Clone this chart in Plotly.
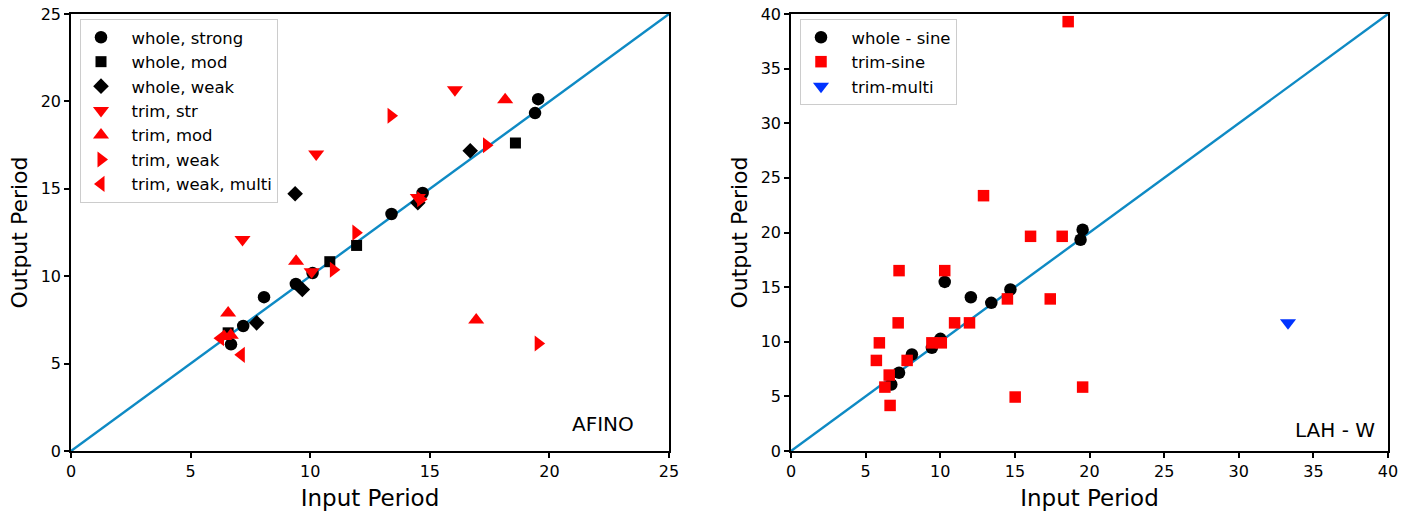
import plotly.graph_objects as go

# ---------------- Left panel (AFINO) ----------------
ws_x = [19.53, 19.40, 14.70, 13.40, 9.40, 10.10, 8.07, 7.20, 6.69]
ws_y = [20.13, 19.33, 14.76, 13.56, 9.56, 10.18, 8.80, 7.15, 6.10]

wm_x = [18.58, 11.94, 10.82, 6.57]
wm_y = [17.62, 11.76, 10.83, 6.76]

ww_x = [16.69, 9.37, 9.67, 7.76, 14.50]
ww_y = [17.18, 14.72, 9.24, 7.33, 14.20]

ts_x = [16.05, 10.25, 7.17, 14.50, 10.06]
ts_y = [20.66, 16.99, 12.10, 14.50, 10.26]

tm_x = [18.15, 9.41, 6.57, 16.94, 6.40, 6.68]
tm_y = [20.10, 10.85, 7.90, 7.49, 6.55, 6.62]

tw_x = [13.38, 17.37, 11.91, 10.97, 14.62, 19.53]
tw_y = [19.18, 17.49, 12.49, 10.37, 14.40, 6.15]

twm_x = [7.12, 6.25]
twm_y = [5.50, 6.45]

# ---------------- Right panel (LAH - W) ----------------
rs_x = [19.54, 19.40, 14.70, 13.42, 12.05, 10.30, 10.01, 9.44, 8.10, 7.24, 6.72]
rs_y = [20.26, 19.34, 14.78, 13.56, 14.07, 15.48, 10.27, 9.44, 8.83, 7.16, 6.09]

rq_x = [18.57, 12.90, 16.05, 18.17, 7.24, 10.30, 14.50, 17.37, 7.18, 10.96, 11.96,
        5.92, 9.44, 10.07, 5.72, 7.78, 6.58, 6.29, 6.64, 15.02, 19.54]
rq_y = [39.30, 23.37, 19.65, 19.65, 16.51, 16.51, 13.92, 13.92, 11.73, 11.73, 11.73,
        9.90, 9.90, 9.90, 8.29, 8.29, 6.95, 5.85, 4.17, 4.94, 5.85]

rm_x = [33.30]
rm_y = [11.73]

left_range = [0, 25]
right_range = [0, 40]
tick_left = [0, 5, 10, 15, 20, 25]
tick_right = [0, 5, 10, 15, 20, 25, 30, 35, 40]

FONT = "DejaVu Sans"
RED = "#ff0000"
BLACK = "#000000"
BLUE = "#0033ff"
LINE = "#0e8ac4"
PAD = "\u00a0\u00a0"  # small gap between legend symbol and label

fig = go.Figure()

# diagonal lines
fig.add_trace(go.Scatter(x=left_range, y=left_range, mode="lines",
                         line=dict(color=LINE, width=2.4), showlegend=False,
                         xaxis="x", yaxis="y", hoverinfo="skip"))
fig.add_trace(go.Scatter(x=right_range, y=right_range, mode="lines",
                         line=dict(color=LINE, width=2.4), showlegend=False,
                         xaxis="x2", yaxis="y2", hoverinfo="skip"))

def add(xs, ys, name, symbol, color, size, ax, leg):
    fig.add_trace(go.Scatter(
        x=xs, y=ys, mode="markers", name=PAD + name,
        marker=dict(symbol=symbol, color=color, size=size, line=dict(width=0)),
        xaxis=ax[0], yaxis=ax[1], legend=leg))

L = ("x", "y")
R = ("x2", "y2")
add(ws_x, ws_y, "whole, strong", "circle", BLACK, 12.5, L, "legend")
add(wm_x, wm_y, "whole, mod", "square", BLACK, 11, L, "legend")
add(ww_x, ww_y, "whole, weak", "diamond", BLACK, 12, L, "legend")
add(ts_x, ts_y, "trim, str", "triangle-down", RED, 14, L, "legend")
add(tm_x, tm_y, "trim, mod", "triangle-up", RED, 14, L, "legend")
add(tw_x, tw_y, "trim, weak", "triangle-right", RED, 14, L, "legend")
add(twm_x, twm_y, "trim, weak, multi", "triangle-left", RED, 14, L, "legend")

add(rs_x, rs_y, "whole - sine", "circle", BLACK, 12.5, R, "legend2")
add(rq_x, rq_y, "trim-sine", "square", RED, 11.5, R, "legend2")
add(rm_x, rm_y, "trim-multi", "triangle-down", BLUE, 14, R, "legend2")

ax_common = dict(showline=True, linecolor="black", linewidth=1.5, mirror=True,
                 ticks="outside", ticklen=5, tickwidth=1.5, tickcolor="black",
                 showgrid=False, zeroline=False, automargin=False,
                 tickfont=dict(family=FONT, size=16, color="black"))

W, H = 1417, 512
y0 = 1 - 451 / H
y1 = 1 - 14 / H

legend_common = dict(xanchor="left", yanchor="top",
                     bgcolor="rgba(255,255,255,0.8)", bordercolor="#cccccc", borderwidth=1,
                     font=dict(family=FONT, size=16.5, color="black"))

fig.update_layout(
    width=W, height=H,
    margin=dict(l=0, r=0, t=0, b=0),
    paper_bgcolor="white", plot_bgcolor="white",
    font=dict(family=FONT, color="black"),
    xaxis=dict(domain=[71 / W, 669 / W], range=left_range, tickvals=tick_left,
               title=dict(text="Input Period", font=dict(family=FONT, size=23), standoff=10),
               anchor="y", **ax_common),
    yaxis=dict(domain=[y0, y1], range=left_range, tickvals=tick_left,
               title=dict(text="Output Period", font=dict(family=FONT, size=22), standoff=7),
               anchor="x", **ax_common),
    xaxis2=dict(domain=[791 / W, 1388 / W], range=right_range, tickvals=tick_right,
                title=dict(text="Input Period", font=dict(family=FONT, size=23), standoff=10),
                anchor="y2", **ax_common),
    yaxis2=dict(domain=[y0, y1], range=right_range, tickvals=tick_right,
                title=dict(text="Output Period", font=dict(family=FONT, size=22), standoff=7),
                anchor="x2", **ax_common),
    legend=dict(x=80 / W, y=1 - 19 / H, **legend_common),
    legend2=dict(x=800 / W, y=1 - 19 / H, **legend_common),
    annotations=[
        dict(text="AFINO", xref="x domain", yref="y domain", x=0.945, y=0.03,
             xanchor="right", yanchor="bottom", showarrow=False,
             font=dict(family=FONT, size=20, color="black")),
        dict(text="LAH - W", xref="x2 domain", yref="y2 domain", x=0.982, y=0.015,
             xanchor="right", yanchor="bottom", showarrow=False,
             font=dict(family=FONT, size=20, color="black")),
    ],
)

fig.write_html("out.html", config={"displayModeBar": False},
               post_script="document.body.style.margin='0';document.body.style.overflow='hidden';")
